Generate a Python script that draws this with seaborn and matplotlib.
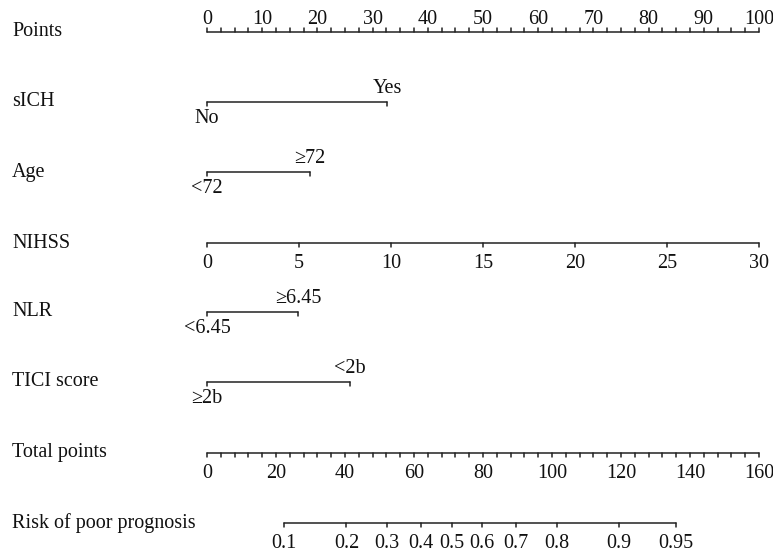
import numpy as np
import pandas as pd
import seaborn as sns
import matplotlib.pyplot as plt

# Points scale (0-100)
points_ticks = [0, 10, 20, 30, 40, 50, 60, 70, 80, 90, 100]
points_minor_step = 2.5

# Categorical predictors: levels and the points they get
sich_levels = ["No", "Yes"]
sich_points = [0, 32.6]
age_levels = ["<72", "≥72"]
age_points = [0, 18.7]
nlr_levels = ["<6.45", "≥6.45"]
nlr_points = [0, 16.5]
tici_levels = ["≥2b", "<2b"]
tici_points = [0, 25.9]

# NIHSS: continuous, 0-30 maps to 0-100 points
nihss_ticks = [0, 5, 10, 15, 20, 25, 30]
nihss_max_points = 100

# Total points scale
total_ticks = [0, 20, 40, 60, 80, 100, 120, 140, 160]
total_minor_step = 4
total_max = 160

# Risk axis: labels and their position on the total points scale
risk_labels = ["0.1", "0.2", "0.3", "0.4", "0.5", "0.6", "0.7", "0.8", "0.9", "0.95"]
risk_total_points = [22.4, 40.4, 52.1, 62.0, 71.0, 79.8, 89.6, 101.4, 119.4, 136.0]

row_names = ["Points", "sICH", "Age", "NIHSS", "NLR", "TICI score",
             "Total points", "Risk of poor prognosis"]

# layout (pixels, figure is 773 x 554)
W, H = 773, 554
X0, X100 = 207, 759
row_y = [32, 102, 172, 243, 312, 382, 453, 523]
tick_len = 4
fs = 14.5

sns.set_theme(style="white")
plt.rcParams['font.family'] = ['Liberation Serif', 'DejaVu Serif']

scale = (X100 - X0) / 100.0


def px(x):
    return (x - X0) / scale


fig = plt.figure(figsize=(W / 100, H / 100), dpi=100)
ax = fig.add_axes([0, 0, 1, 1])

segs = []


def seg(x1, y1, x2, y2):
    n = len(segs)
    segs.append({"x": x1, "y": y1, "seg": n})
    segs.append({"x": x2, "y": y2, "seg": n})


def text(x, y, s, ha="center", va="baseline"):
    ax.text(x, y, s, ha=ha, va=va, fontsize=fs, color="#111111")


# row titles
for name, y in zip(row_names, row_y):
    text(px(12), y, name, ha="left", va="center")

# Points axis (ticks and labels above)
y = row_y[0]
seg(0, y, 100, y)
for v in np.arange(0, 100 + 0.01, points_minor_step):
    seg(v, y, v, y - tick_len)
for v in points_ticks:
    text(v, y - 8.5, str(v))

# categorical rows
cats = [(row_y[1], sich_levels, sich_points),
        (row_y[2], age_levels, age_points),
        (row_y[4], nlr_levels, nlr_points),
        (row_y[5], tici_levels, tici_points)]
for y, levels, pts in cats:
    seg(pts[0], y, pts[1], y)
    for p in pts:
        seg(p, y, p, y + tick_len)
    text(pts[0], y + 21, levels[0])
    text(pts[1], y - 9, levels[1])

# NIHSS
y = row_y[3]
nihss_pts = [v / nihss_ticks[-1] * nihss_max_points for v in nihss_ticks]
seg(nihss_pts[0], y, nihss_pts[-1], y)
for v, p in zip(nihss_ticks, nihss_pts):
    seg(p, y, p, y + tick_len)
    text(p, y + 25, str(v))

# Total points
y = row_y[6]
seg(0, y, 100, y)
for v in np.arange(0, total_max + 0.01, total_minor_step):
    p = v / total_max * 100
    seg(p, y, p, y + tick_len)
for v in total_ticks:
    text(v / total_max * 100, y + 25, str(v))

# Risk
y = row_y[7]
rp = [v / total_max * 100 for v in risk_total_points]
seg(rp[0], y, rp[-1], y)
for lab, p in zip(risk_labels, rp):
    seg(p, y, p, y + tick_len)
    text(p, y + 25, lab)

df = pd.DataFrame(segs)
sns.lineplot(data=df, x="x", y="y", units="seg", estimator=None, sort=False,
             color="#222222", linewidth=1.1, ax=ax, legend=False)
ax.set_xlim(px(0), px(W))
ax.set_ylim(H, 0)
ax.axis("off")

fig.savefig("out.png", dpi=100)
